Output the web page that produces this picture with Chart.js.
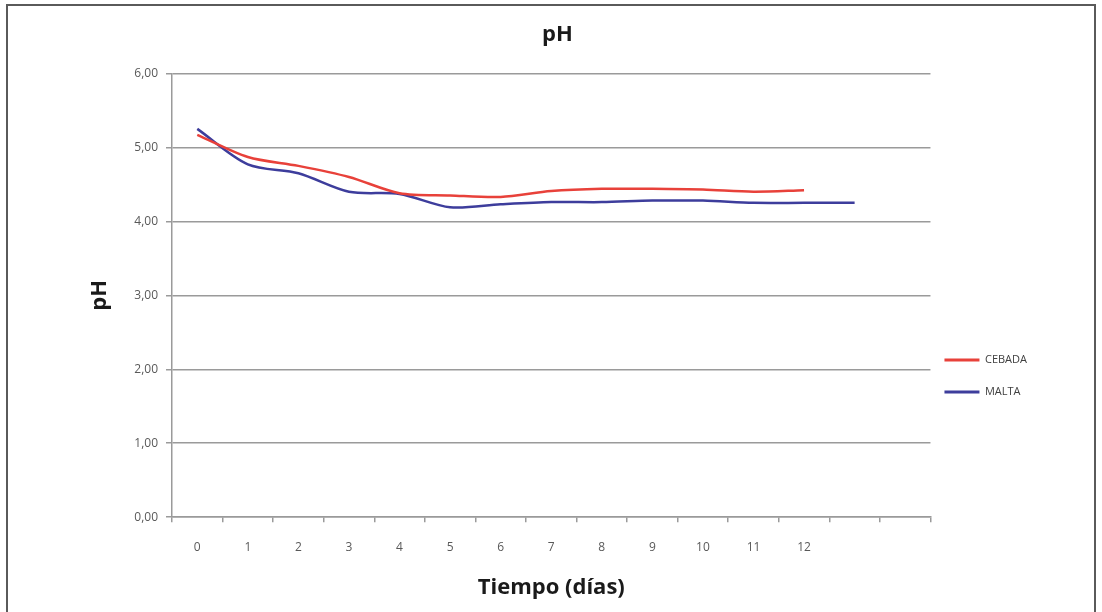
<!DOCTYPE html>
<html lang="es">
<head>
<meta charset="utf-8">
<title>pH</title>
<script src="https://cdn.jsdelivr.net/npm/chart.js@4.4.1/dist/chart.umd.min.js"></script>
<style>
    html, body { margin: 0; padding: 0; background: #fff; }
    #wrap { position: relative; width: 1102px; height: 612px; overflow: hidden; }
    #ph-chart { position: absolute; left: 0; top: 0; }
    #marco {
        position: absolute; left: 6px; top: 4px; width: 1090px; height: 640px;
        box-sizing: border-box; border: 2px solid #5a5a5a; pointer-events: none;
    }
</style>
</head>
<body>
<div id="wrap">
    <canvas id="ph-chart" width="1102" height="612"></canvas>
    <div id="marco"></div>
</div>
<script>
// Datos
const dias = ['0', '1', '2', '3', '4', '5', '6', '7', '8', '9', '10', '11', '12', '', ''];
const cebada = [5.17, 4.87, 4.75, 4.60, 4.38, 4.35, 4.33, 4.41, 4.44, 4.44, 4.43, 4.40, 4.42];
const malta = [5.25, 4.77, 4.65, 4.40, 4.37, 4.19, 4.23, 4.26, 4.26, 4.28, 4.28, 4.25, 4.25, 4.25];
const yTicks = [0, 1, 2, 3, 4, 5, 6];

document.addEventListener('DOMContentLoaded', function () {
    const gridColor = '#9a9a9a';
    const fontFamily = "'Open Sans', 'Liberation Sans', sans-serif";

    const ctx = document.getElementById('ph-chart');
    try {
        new Chart(ctx.getContext('2d'), {
            type: 'line',
            data: {
                labels: dias,
                datasets: [{
                    label: 'CEBADA',
                    data: cebada,
                    borderColor: '#e8413a',
                    backgroundColor: '#e8413a',
                    borderWidth: 2.5,
                    pointRadius: 0,
                    tension: 0.3,
                    fill: false
                }, {
                    label: 'MALTA',
                    data: malta,
                    borderColor: '#3d3d9c',
                    backgroundColor: '#3d3d9c',
                    borderWidth: 2.5,
                    pointRadius: 0,
                    tension: 0.3,
                    fill: false
                }]
            },
            options: {
                responsive: false,
                animation: false,
                layout: { padding: { left: 78, right: 65, top: 0, bottom: 0 } },
                plugins: {
                    title: {
                        display: true,
                        text: 'pH',
                        color: '#1a1a1a',
                        font: { family: fontFamily, size: 22, weight: 'bold' },
                        padding: { top: 22, bottom: 25 }
                    },
                    legend: {
                        position: 'right',
                        align: 'center',
                        // título vacío para bajar la leyenda como en Excel
                        title: { display: true, text: ' ', font: { size: 10 }, padding: { top: 135, bottom: 0 } },
                        labels: {
                            color: '#404040',
                            font: { family: fontFamily, size: 11, lineHeight: '18px' },
                            boxWidth: 35,
                            boxHeight: 3,
                            padding: 14,
                            generateLabels: function (chart) {
                                return Chart.defaults.plugins.legend.labels.generateLabels(chart).map(item => {
                                    item.text = [item.text];
                                    item.fillStyle = item.strokeStyle;
                                    item.lineWidth = 0;
                                    return item;
                                });
                            }
                        }
                    },
                    tooltip: { enabled: false }
                },
                scales: {
                    x: {
                        offset: true,
                        grid: {
                            offset: true,
                            drawOnChartArea: false,
                            drawTicks: true,
                            tickLength: 5,
                            color: gridColor,
                            lineWidth: 1.5
                        },
                        border: { color: gridColor, width: 1.5 },
                        ticks: {
                            color: '#595959',
                            font: { family: fontFamily, size: 12 },
                            padding: 18,
                            maxRotation: 0,
                            autoSkip: false
                        },
                        title: {
                            display: true,
                            text: 'Tiempo (días)',
                            color: '#1a1a1a',
                            font: { family: fontFamily, size: 22, weight: 'bold' },
                            padding: { top: 2, bottom: 11 }
                        }
                    },
                    y: {
                        min: yTicks[0],
                        max: yTicks[yTicks.length - 1],
                        afterBuildTicks: function (scale) {
                            scale.ticks = yTicks.map(v => ({ value: v }));
                        },
                        afterFit: function (scale) {
                            scale.width = 94;
                        },
                        grid: {
                            color: gridColor,
                            lineWidth: 1.5,
                            tickLength: 6
                        },
                        border: { color: gridColor, width: 1.5 },
                        ticks: {
                            color: '#595959',
                            font: { family: fontFamily, size: 12 },
                            padding: 8,
                            callback: value => value.toFixed(2).replace('.', ',')
                        },
                        title: {
                            display: true,
                            text: 'pH',
                            color: '#1a1a1a',
                            font: { family: fontFamily, size: 22, weight: 'bold' },
                            padding: { top: 9, bottom: 0 }
                        }
                    }
                }
            }
        });
    } catch (error) {
        console.error('Error al crear el gráfico:', error);
    }
});
</script>
</body>
</html>
